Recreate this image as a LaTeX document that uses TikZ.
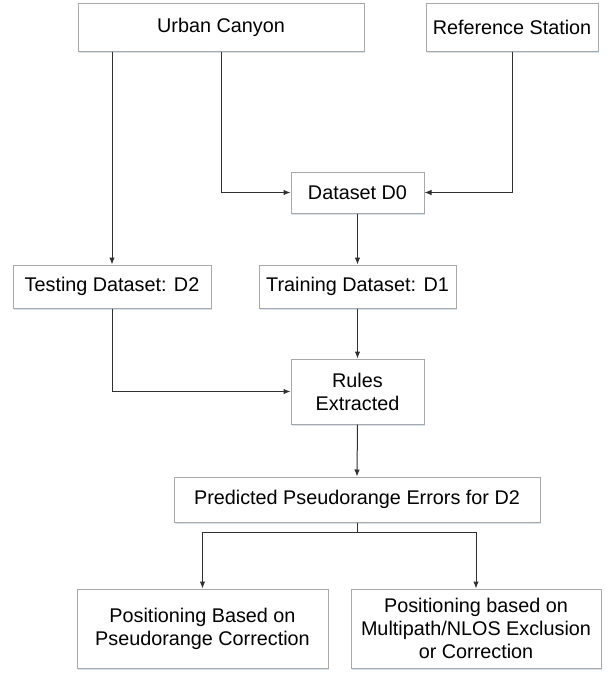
\documentclass[tikz,border=0pt]{standalone}
\usepackage{fontspec}
\setmainfont{Liberation Sans}
\usetikzlibrary{arrows.meta,shadows}
\definecolor{boxline}{HTML}{A8A8A8}
\definecolor{shadowblue}{HTML}{D6E4F2}
\definecolor{conn}{HTML}{303030}
\begin{document}
\begin{tikzpicture}[x=1pt,y=-1pt,
  box/.style={draw=boxline,line width=1pt,fill=white,inner sep=0pt,align=center,
    font=\fontsize{19.8}{23}\selectfont,
    drop shadow={shadow xshift=0.5pt,shadow yshift=-2pt,fill=shadowblue,opacity=1}},
  conarrow/.style={draw=conn,line width=1pt,-{Latex[length=7pt,width=5.5pt]}},
  conline/.style={draw=conn,line width=1pt}]
\useasboundingbox (0,0) rectangle (607,673);
\node[box,minimum width=286pt,minimum height=48pt] (uc) at (221,27) {Urban Canyon};
\node[box,minimum width=172pt,minimum height=48pt] (rs) at (512,27) {Reference Station};
\node[box,minimum width=133pt,minimum height=41pt] (d0) at (357.5,192.5) {Dataset D0};
\node[box,minimum width=198pt,minimum height=43pt] (test) at (112,286.5) {Testing Dataset: D2};
\node[box,minimum width=197pt,minimum height=43pt] (train) at (357.5,286.5) {Training Dataset: D1};
\node[box,minimum width=133pt,minimum height=65pt] (rules) at (357.5,391.5) {Rules\\Extracted};
\node[box,minimum width=366pt,minimum height=45pt] (pred) at (357,499.5) {Predicted Pseudorange Errors for D2};
\node[box,minimum width=251pt,minimum height=79pt] (posA) at (202.5,628.5) {Positioning Based on\\Pseudorange Correction};
\node[box,minimum width=250pt,minimum height=79pt] (posB) at (476,628.5) {Positioning based on\\Multipath/NLOS Exclusion\\or Correction};
\coordinate (split) at (357,532);
\draw[conarrow] (uc.south -| test.north) -- (test.north);
\draw[conarrow] (uc.south) |- (d0.west);
\draw[conarrow] (rs.south) |- (d0.east);
\draw[conarrow] (d0.south) -- (train.north);
\draw[conarrow] (train.south) -- (rules.north);
\draw[conarrow] (test.south) |- (rules.west);
\draw[conarrow] (rules.south) -- (pred.north);
\draw[conline] (pred.south) -- (split);
\draw[conarrow] (split) -| (posA.north);
\draw[conarrow] (split) -| (posB.north);
\end{tikzpicture}
\end{document}
